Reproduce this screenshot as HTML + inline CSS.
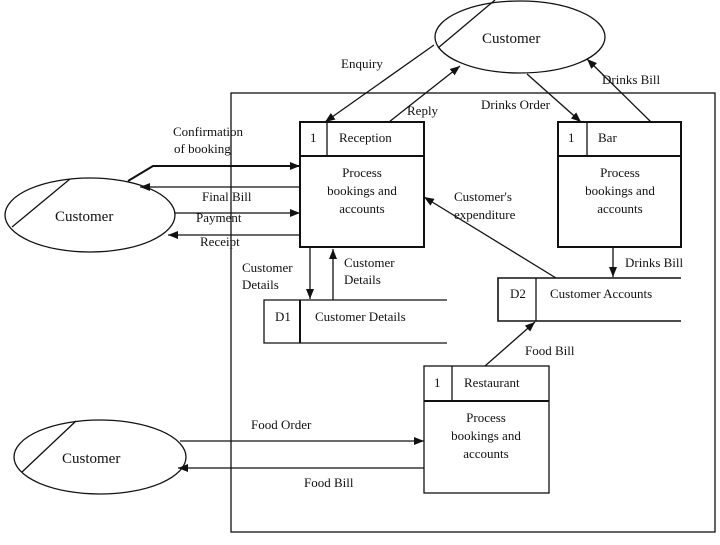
<!DOCTYPE html>
<html><head><meta charset="utf-8"><style>
body{margin:0;background:#fff}
svg text{font-family:"Liberation Serif",serif;font-size:13px;fill:#111}
</style></head><body>
<svg width="720" height="540" viewBox="0 0 720 540" xmlns="http://www.w3.org/2000/svg">
<defs><marker id="a" viewBox="0 0 10 10" refX="10" refY="5" markerWidth="10" markerHeight="10" markerUnits="userSpaceOnUse" orient="auto-start-reverse"><path d="M0,1 L10,5 L0,9 z" fill="#111"/></marker></defs>
<g stroke="#111" fill="none" stroke-width="1.3">
<rect x="231" y="93" width="484" height="439"/>
<ellipse cx="520" cy="37" rx="85" ry="36" fill="#fff"/>
<line x1="438" y1="48" x2="495" y2="0"/>
<ellipse cx="90" cy="215" rx="85" ry="37" fill="#fff"/>
<line x1="70" y1="179" x2="12" y2="227"/>
<ellipse cx="100" cy="457" rx="86" ry="37" fill="#fff"/>
<line x1="76" y1="421" x2="22" y2="472"/>
<rect x="300" y="122" width="124" height="125" stroke-width="2"/>
<line x1="300" y1="156" x2="424" y2="156" stroke-width="2"/>
<line x1="327" y1="122" x2="327" y2="156"/>
<rect x="558" y="122" width="123" height="125" stroke-width="2"/>
<line x1="558" y1="156" x2="681" y2="156" stroke-width="2"/>
<line x1="587" y1="122" x2="587" y2="156"/>
<rect x="424" y="366" width="125" height="127"/>
<line x1="424" y1="401" x2="549" y2="401" stroke-width="2"/>
<line x1="452" y1="366" x2="452" y2="401"/>
<path d="M447,300 H264 V343 H447"/>
<line x1="300" y1="300" x2="300" y2="343" stroke-width="2"/>
<path d="M681,278 H498 V321 H681" stroke-width="1.6"/>
<line x1="536" y1="278" x2="536" y2="321"/>
<path d="M128,181 L153,166 H300" stroke-width="2" marker-end="url(#a)"/>
<line x1="300" y1="187" x2="140" y2="187" marker-end="url(#a)"/>
<line x1="175" y1="213" x2="300" y2="213" marker-end="url(#a)"/>
<line x1="300" y1="235" x2="168" y2="235" marker-end="url(#a)"/>
<line x1="434" y1="45" x2="325" y2="122" marker-end="url(#a)"/>
<line x1="389" y1="122" x2="460" y2="66" marker-end="url(#a)"/>
<line x1="527" y1="74" x2="581" y2="122" marker-end="url(#a)"/>
<line x1="651" y1="122" x2="587" y2="59" marker-end="url(#a)"/>
<line x1="556" y1="278" x2="424" y2="197" marker-end="url(#a)"/>
<line x1="310" y1="248" x2="310" y2="299" marker-end="url(#a)"/>
<line x1="333" y1="300" x2="333" y2="249" marker-end="url(#a)"/>
<line x1="613" y1="248" x2="613" y2="277" marker-end="url(#a)"/>
<line x1="485" y1="366" x2="535" y2="322" marker-end="url(#a)"/>
<line x1="180" y1="441" x2="424" y2="441" marker-end="url(#a)"/>
<line x1="424" y1="468" x2="178" y2="468" marker-end="url(#a)"/>
</g>
<text x="482" y="43" style="font-size:15px">Customer</text>
<text x="55" y="221" style="font-size:15px">Customer</text>
<text x="62" y="463" style="font-size:15px">Customer</text>
<text x="310" y="142">1</text><text x="339" y="142">Reception</text>
<text x="568" y="142">1</text><text x="598" y="142">Bar</text>
<text x="434" y="387">1</text><text x="464" y="387">Restaurant</text>
<g text-anchor="middle">
<text x="362" y="177">Process</text><text x="362" y="195">bookings and</text><text x="362" y="213">accounts</text>
<text x="620" y="177">Process</text><text x="620" y="195">bookings and</text><text x="620" y="213">accounts</text>
<text x="486" y="422">Process</text><text x="486" y="440">bookings and</text><text x="486" y="458">accounts</text>
</g>
<text x="275" y="321">D1</text><text x="315" y="321">Customer Details</text>
<text x="510" y="298">D2</text><text x="550" y="298">Customer Accounts</text>
<text x="341" y="68">Enquiry</text>
<text x="407" y="115">Reply</text>
<text x="481" y="109">Drinks Order</text>
<text x="602" y="84">Drinks Bill</text>
<text x="173" y="136">Confirmation</text><text x="174" y="153">of booking</text>
<text x="202" y="201">Final Bill</text>
<text x="196" y="222">Payment</text>
<text x="200" y="246">Receipt</text>
<text x="454" y="201">Customer's</text><text x="454" y="219">expenditure</text>
<text x="242" y="272">Customer</text><text x="242" y="289">Details</text>
<text x="344" y="267">Customer</text><text x="344" y="284">Details</text>
<text x="625" y="267">Drinks Bill</text>
<text x="525" y="355">Food Bill</text>
<text x="251" y="429">Food Order</text>
<text x="304" y="487">Food Bill</text>
</svg>
</body></html>
